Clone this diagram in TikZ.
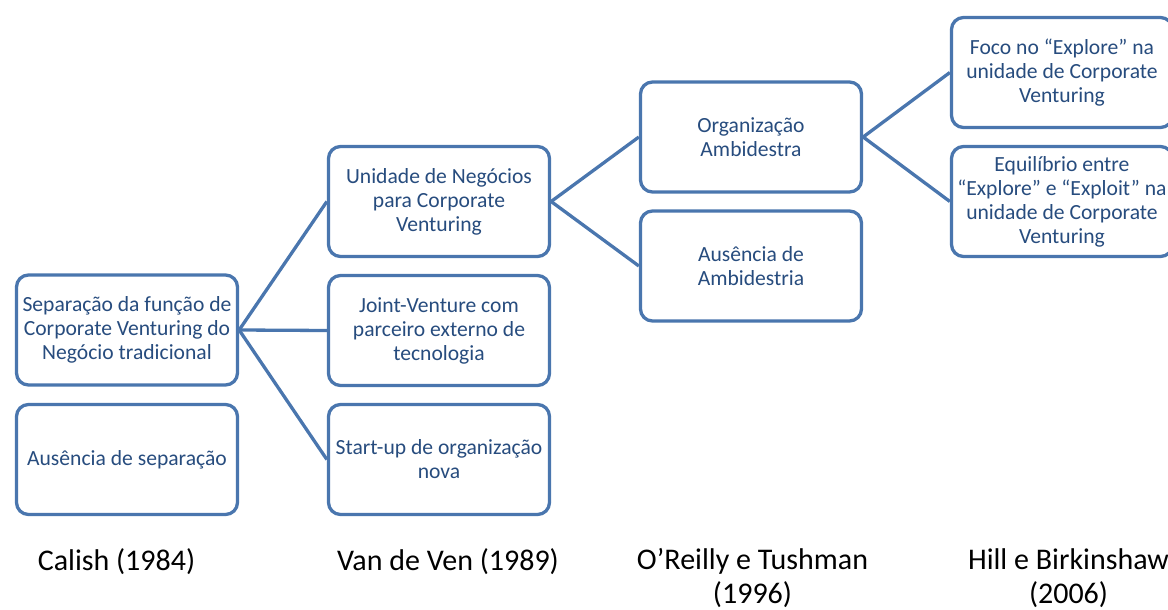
\documentclass[tikz,border=0pt]{standalone}
\usepackage{fontspec}
\setmainfont{Carlito}
\definecolor{boxline}{HTML}{4A76AE}
\definecolor{boxtext}{HTML}{274C7E}
\tikzset{
  stage/.style={draw=boxline, line width=3.3pt, rounded corners=12pt, fill=white,
    minimum width=221pt, minimum height=110pt, align=center, text=boxtext,
    font=\fontsize{21.6pt}{24pt}\selectfont, inner sep=0pt},
  link/.style={draw=boxline, line width=3.3pt},
  author/.style={align=center, text=black, font=\fontsize{30pt}{34pt}\selectfont, inner sep=0pt}
}
\begin{document}
\begin{tikzpicture}[x=1pt,y=-1pt]
\useasboundingbox (0,0) rectangle (1168,610);
% stage boxes, one column per author
\node[stage] (a1) at (127,330) {Separação da função de\\Corporate Venturing do\\Negócio tradicional};
\node[stage] (a2) at (127,459.5) {Ausência de separação};
\node[stage] (b1) at (439,201.5) {Unidade de Negócios\\para Corporate\\Venturing};
\node[stage] (b2) at (439,330.5) {Joint-Venture com\\parceiro externo de\\tecnologia};
\node[stage] (b3) at (439,459.5) {Start-up de organização\\nova};
\node[stage] (c1) at (751,137) {Organização\\Ambidestra};
\node[stage] (c2) at (751,266) {Ausência de\\Ambidestria};
\node[stage] (d1) at (1062,72.5) {Foco no “Explore” na\\unidade de Corporate\\Venturing};
\node[stage] (d2) at (1062,201.5) {Equilíbrio entre\\“Explore” e “Exploit” na\\unidade de Corporate\\Venturing};
% branches
\draw[link] (a1.east) -- (b1.west);
\draw[link] (a1.east) -- (b2.west);
\draw[link] (a1.east) -- (b3.west);
\draw[link] (b1.east) -- (c1.west);
\draw[link] (b1.east) -- (c2.west);
\draw[link] (c1.east) -- (d1.west);
\draw[link] (c1.east) -- (d2.west);
% author labels
\node[author, anchor=north] (l1) at (116.5,548) {Calish (1984)};
\node[author, anchor=north] (l2) at (448,548) {Van de Ven (1989)};
\node[author, anchor=north] (l3) at (752.5,548) {O’Reilly e Tushman\\(1996)};
\node[author, anchor=north] (l4) at (1068.5,548) {Hill e Birkinshaw\\(2006)};
\end{tikzpicture}
\end{document}
